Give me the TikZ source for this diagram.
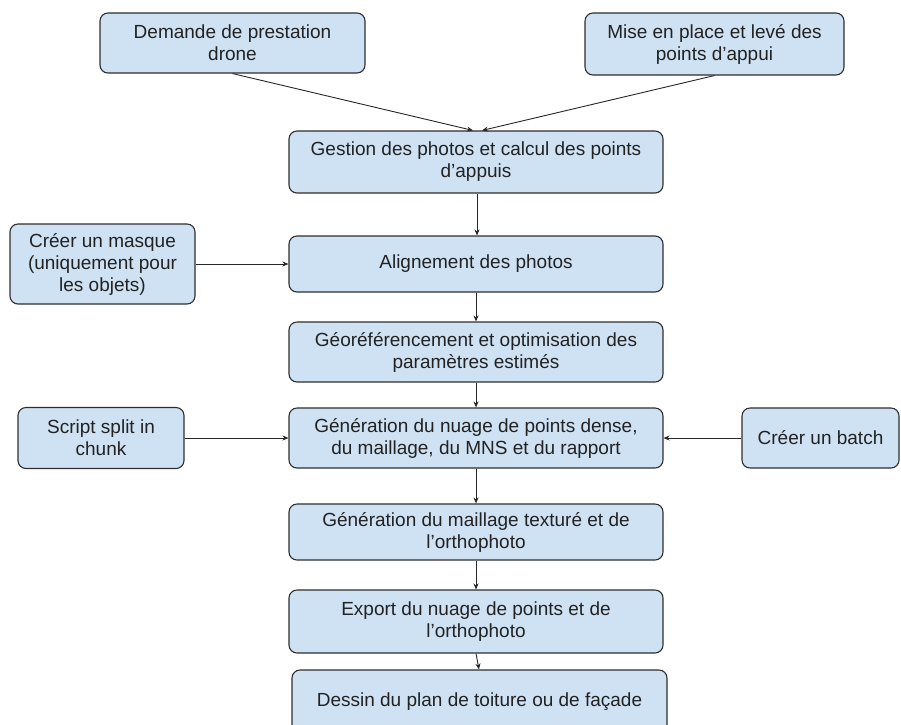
\documentclass[tikz,border=0pt]{standalone}
\usepackage{fontspec}
\setmainfont{Liberation Sans}
\usetikzlibrary{arrows.meta}
\definecolor{boxfill}{HTML}{CFE2F3}
\definecolor{boxline}{HTML}{2E2E2E}
\definecolor{txt}{HTML}{222222}
\tikzset{
  px/.style={x=1pt,y=-1pt},
  stepbox/.style={draw=boxline, line width=1.1pt, fill=boxfill, rounded corners=8pt,
    align=center, text=txt, inner sep=0pt,
    font=\fontsize{19}{22}\selectfont},
  conn/.style={draw=black!85, line width=0.9pt, -{Stealth[length=6pt,width=5pt]}}
}
\begin{document}
\begin{tikzpicture}[px]
\useasboundingbox (0,0) rectangle (901,724);
\clip (0,0) rectangle (901,724);
\node[stepbox, minimum width=265pt, minimum height=60pt] (b1) at (232.5,43) {Demande de prestation\\drone};
\node[stepbox, minimum width=259pt, minimum height=62pt] (b2) at (714.5,44) {Mise en place et levé des\\points d’appui};
\node[stepbox, minimum width=374pt, minimum height=62pt] (b3) at (476,162) {Gestion des photos et calcul des points\\d’appuis};
\node[stepbox, minimum width=185pt, minimum height=80pt] (b4) at (102.5,264) {Créer un masque\\(uniquement pour\\les objets)};
\node[stepbox, minimum width=374pt, minimum height=56pt] (b5) at (476,264) {Alignement des photos};
\node[stepbox, minimum width=374pt, minimum height=60pt] (b6) at (476,352) {Géoréférencement et optimisation des\\paramètres estimés};
\node[stepbox, minimum width=166pt, minimum height=61pt] (b7) at (101,438) {Script split in\\chunk};
\node[stepbox, minimum width=374pt, minimum height=60pt] (b8) at (476,438) {Génération du nuage de points dense,\\du maillage, du MNS et du rapport};
\node[stepbox, minimum width=157pt, minimum height=60pt] (b9) at (820.5,438) {Créer un batch};
\node[stepbox, minimum width=374pt, minimum height=56pt] (b10) at (476,532) {Génération du maillage texturé et de\\l’orthophoto};
\node[stepbox, minimum width=374pt, minimum height=63pt] (b11) at (476,621.5) {Export du nuage de points et de\\l’orthophoto};
\node[stepbox, minimum width=375pt, minimum height=64pt] (b12) at (479.5,702) {Dessin du plan de toiture ou de façade};
\coordinate (t1) at ([xshift=-3pt]b3.north);
\coordinate (t2) at ([xshift=6pt]b3.north);
\draw[conn] (b1.south) -- (t1);
\draw[conn] (b2.south) -- (t2);
\draw[conn] ([xshift=1pt]b3.south) -- ([xshift=1pt]b5.north);
\draw[conn] (b4.east) -- (b5.west);
\draw[conn] (b5.south) -- (b6.north);
\draw[conn] (b6.south) -- (b8.north);
\draw[conn] (b7.east) -- (b8.west);
\draw[conn] (b9.west) -- (b8.east);
\draw[conn] (b8.south) -- (b10.north);
\draw[conn] (b10.south) -- (b11.north);
\draw[conn] (b11.south) -- ([xshift=-0.5pt]b12.north);
\end{tikzpicture}
\end{document}
